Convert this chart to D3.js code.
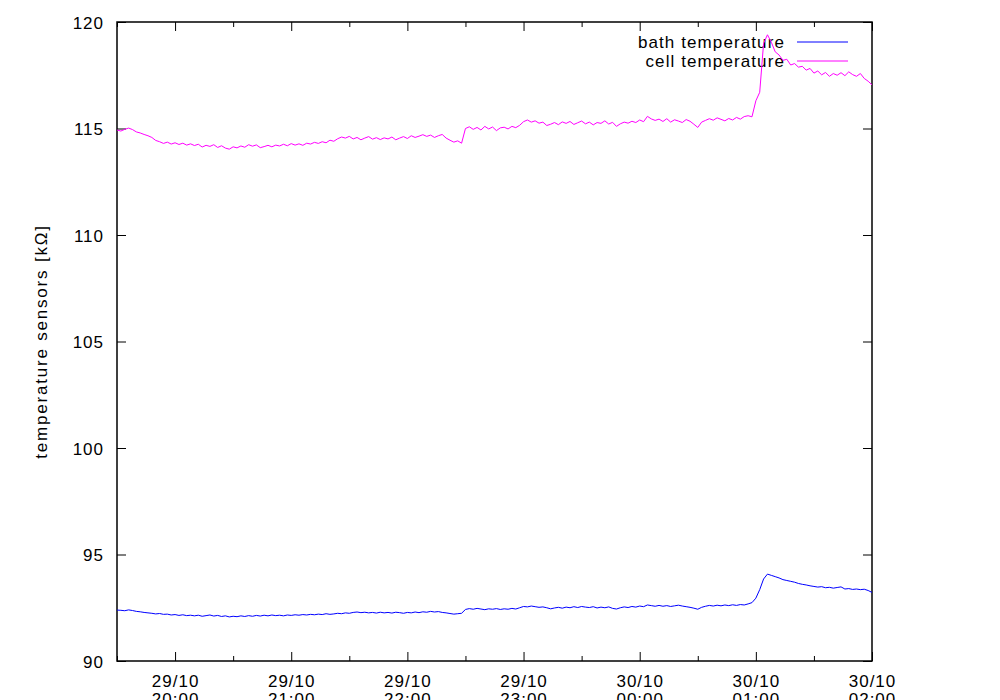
<!DOCTYPE html>
<html>
<head>
<meta charset="utf-8">
<script src="https://cdn.jsdelivr.net/npm/d3@7"></script>
<style>
  body { margin: 0; background: #fff; }
  svg { font-family: "Liberation Sans", Arial, sans-serif; }
</style>
</head>
<body>
<svg id="chart" width="1000" height="700"></svg>
<script>
// samples every 2 minutes starting 29/10 19:30
var stepMin = 2;
var startTime = new Date(2010, 9, 29, 19, 30);
var endTime = new Date(2010, 9, 30, 2, 0);

var seriesNames = ["bath temperature", "cell temperature"];

var cellTemp = [
  114.93, 114.88, 114.96, 115.02, 114.95, 114.84, 114.79, 114.72, 114.66, 114.58,
  114.44, 114.38, 114.30, 114.36, 114.27, 114.33, 114.25, 114.31, 114.22, 114.28,
  114.20, 114.26, 114.13, 114.21, 114.16, 114.24, 114.11, 114.19, 114.08, 114.03,
  114.14, 114.09, 114.18, 114.12, 114.24, 114.17, 114.23, 114.10, 114.15, 114.21,
  114.14, 114.22, 114.18, 114.26, 114.19, 114.29, 114.22, 114.28, 114.21, 114.31,
  114.27, 114.35, 114.30, 114.38, 114.33, 114.45, 114.40, 114.52, 114.60, 114.55,
  114.63, 114.51, 114.58, 114.47, 114.55, 114.62, 114.50, 114.57, 114.48, 114.56,
  114.51, 114.60, 114.47, 114.55, 114.62, 114.53, 114.66, 114.58, 114.64, 114.71,
  114.63, 114.69, 114.58, 114.66, 114.72, 114.55, 114.45, 114.36, 114.42, 114.31,
  115.00, 115.08, 114.96, 115.05, 114.93, 115.10, 114.98, 115.07, 114.90, 115.03,
  115.06, 114.98, 115.10, 115.04, 115.15, 115.32, 115.40, 115.30, 115.36, 115.25,
  115.30, 115.14, 115.20, 115.28, 115.18, 115.31, 115.24, 115.33, 115.19, 115.27,
  115.35, 115.22, 115.30, 115.17, 115.28, 115.24, 115.36, 115.21, 115.29, 115.10,
  115.22, 115.30, 115.25, 115.34, 115.28, 115.40, 115.32, 115.57, 115.45, 115.38,
  115.44, 115.33, 115.46, 115.30, 115.41, 115.35, 115.28, 115.42, 115.34, 115.20,
  115.05, 115.30, 115.38, 115.46, 115.39, 115.50, 115.43, 115.36, 115.47, 115.40,
  115.52, 115.44, 115.56, 115.60, 115.55, 116.30, 116.70, 119.00, 119.40, 119.05,
  118.60, 118.45, 118.20, 118.25, 117.98, 118.05, 117.88, 117.92, 117.74, 117.82,
  117.60, 117.70, 117.52, 117.63, 117.45, 117.58, 117.50, 117.62, 117.48, 117.66,
  117.53, 117.45, 117.58, 117.35, 117.22, 117.05
];

var bathTemp = [
  92.39, 92.38, 92.36, 92.40, 92.37, 92.33, 92.31, 92.28, 92.26, 92.24,
  92.21, 92.23, 92.19, 92.20, 92.16, 92.18, 92.14, 92.17, 92.13, 92.15,
  92.12, 92.15, 92.10, 92.13, 92.16, 92.11, 92.14, 92.09, 92.12, 92.07,
  92.10, 92.08, 92.12, 92.09, 92.13, 92.10, 92.14, 92.11, 92.15, 92.12,
  92.16, 92.13, 92.15, 92.12, 92.16, 92.14, 92.17, 92.15, 92.18, 92.16,
  92.19, 92.17, 92.20, 92.18, 92.22, 92.19, 92.21, 92.24, 92.22, 92.26,
  92.24, 92.28, 92.30, 92.27, 92.29, 92.26, 92.28, 92.25, 92.29, 92.26,
  92.28, 92.25, 92.29, 92.27, 92.24, 92.28, 92.26, 92.30, 92.27, 92.31,
  92.29, 92.33, 92.30, 92.32, 92.28, 92.26, 92.23, 92.20, 92.22, 92.24,
  92.42, 92.46, 92.43, 92.47, 92.44, 92.41, 92.45, 92.43, 92.46, 92.42,
  92.45, 92.43, 92.47, 92.44, 92.50, 92.56, 92.54, 92.58, 92.55, 92.52,
  92.54, 92.50, 92.45, 92.49, 92.52, 92.48, 92.53, 92.50, 92.55, 92.51,
  92.56, 92.53, 92.51, 92.55, 92.49, 92.53, 92.50, 92.54, 92.47, 92.44,
  92.50, 92.54, 92.51, 92.56, 92.53, 92.58, 92.55, 92.63, 92.60, 92.57,
  92.61, 92.57, 92.60, 92.56, 92.59, 92.62, 92.58, 92.55, 92.52, 92.48,
  92.43, 92.52, 92.57, 92.61, 92.58, 92.62, 92.59, 92.63, 92.60, 92.64,
  92.61, 92.65, 92.63, 92.68, 92.74, 92.95, 93.35, 93.85, 94.08, 94.02,
  93.96, 93.90, 93.82, 93.78, 93.74, 93.70, 93.64, 93.60, 93.57, 93.53,
  93.50, 93.47, 93.49, 93.44, 93.46, 93.42, 93.45, 93.48, 93.38, 93.40,
  93.36, 93.38, 93.35, 93.37, 93.31, 93.22
];

var yTicks = [90, 95, 100, 105, 110, 115, 120];

var svg = d3.select("#chart");
var mLeft = 117, mRight = 872, mTop = 22, mBottom = 661;

var x = d3.scaleTime().domain([startTime, endTime]).range([mLeft, mRight]);
var y = d3.scaleLinear().domain([90, 120]).range([mBottom, mTop]);

function timeAt(i) {
  return d3.timeMinute.offset(startTime, i * stepMin);
}

var fmtDay = d3.timeFormat("%d/%m");
var fmtHour = d3.timeFormat("%H:%M");

// ticks, pointing inward, on all four sides
var hourTicks = d3.timeHour.every(1).range(d3.timeHour.ceil(startTime), d3.timeMinute.offset(endTime, 1));
var halfTicks = d3.timeMinute.every(30).range(startTime, d3.timeMinute.offset(endTime, 1))
  .filter(function(d) { return d.getMinutes() === 30; });

var xBottom = svg.append("g")
  .attr("transform", "translate(0," + mBottom + ")")
  .call(d3.axisBottom(x).tickValues(hourTicks).tickSizeInner(-9).tickSizeOuter(0).tickPadding(12));
svg.append("g")
  .attr("transform", "translate(0," + mTop + ")")
  .call(d3.axisTop(x).tickValues(hourTicks).tickSizeInner(-9).tickSizeOuter(0).tickFormat(""));
svg.append("g")
  .attr("transform", "translate(0," + mBottom + ")")
  .call(d3.axisBottom(x).tickValues(halfTicks).tickSizeInner(-5).tickSizeOuter(0).tickFormat(""));
svg.append("g")
  .attr("transform", "translate(0," + mTop + ")")
  .call(d3.axisTop(x).tickValues(halfTicks).tickSizeInner(-5).tickSizeOuter(0).tickFormat(""));

var yLeft = svg.append("g")
  .attr("transform", "translate(" + mLeft + ",0)")
  .call(d3.axisLeft(y).tickValues(yTicks).tickSizeInner(-9).tickSizeOuter(0).tickPadding(13));
svg.append("g")
  .attr("transform", "translate(" + mRight + ",0)")
  .call(d3.axisRight(y).tickValues(yTicks).tickSizeInner(-9).tickSizeOuter(0).tickFormat(""));

svg.selectAll(".domain").remove();
svg.selectAll(".tick line").attr("stroke", "#000").attr("stroke-width", 1);
svg.selectAll(".tick text")
  .attr("fill", "#000")
  .style("font-size", "17px")
  .style("letter-spacing", "1px");

// two-line date labels
xBottom.selectAll(".tick text").each(function(d) {
  var t = d3.select(this).text(null).attr("dy", null).attr("y", 0);
  t.append("tspan").attr("x", 0).attr("y", 26).text(fmtDay(d));
  t.append("tspan").attr("x", 0).attr("y", 44).text(fmtHour(d));
});
yLeft.selectAll(".tick text").attr("dy", "0.36em");

// frame
svg.append("rect")
  .attr("x", mLeft).attr("y", mTop)
  .attr("width", mRight - mLeft).attr("height", mBottom - mTop)
  .attr("fill", "none").attr("stroke", "#000").attr("stroke-width", 1.5);

// y label
svg.append("text")
  .attr("transform", "translate(47," + ((mTop + mBottom) / 2) + ") rotate(-90)")
  .attr("text-anchor", "middle")
  .style("font-size", "17px")
  .style("letter-spacing", "1.8px")
  .text("temperature sensors [kΩ]");

var colors = ["#0000ff", "#ff00ff"];

// legend
var legend = svg.append("g");
seriesNames.forEach(function(name, i) {
  var ly = 42 + i * 19;
  legend.append("text")
    .attr("x", 785).attr("y", ly).attr("dy", "0.36em")
    .attr("text-anchor", "end")
    .style("font-size", "17px")
    .style("letter-spacing", "1.1px")
    .text(name);
  legend.append("line")
    .attr("x1", 797).attr("x2", 848)
    .attr("y1", ly).attr("y2", ly)
    .attr("stroke", colors[i]).attr("stroke-width", 1);
});

var line = d3.line()
  .x(function(d, i) { return x(timeAt(i)); })
  .y(function(d) { return y(d); });

[bathTemp, cellTemp].forEach(function(vals, i) {
  svg.append("path")
    .datum(vals)
    .attr("d", line)
    .attr("fill", "none")
    .attr("stroke", colors[i])
    .attr("stroke-width", 1);
});
</script>
</body>
</html>
